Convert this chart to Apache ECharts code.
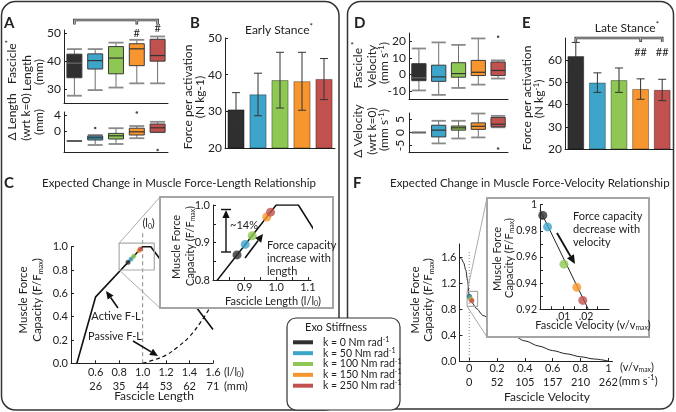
<!DOCTYPE html>
<html><head><meta charset="utf-8">
<script src="https://cdn.jsdelivr.net/npm/echarts@6/dist/echarts.min.js"></script>
<style>html,body{margin:0;padding:0;background:#fff;}#chart{width:676px;height:412px;}</style>
</head><body><div id="chart"></div>
<script>
// ---------------- data ----------------
const stiffness = ['0', '50', '100', '150', '250'];
const colors = ['#2f2f2f', '#3ea5ca', '#8ec753', '#f7962e', '#c1514e'];

// Panel A: fascicle length [min, q1, median, q3, max] (mm)
const fascicleLength = [
  [27.6, 34.0, 39.2, 42.4, 44.2],
  [29.6, 37.1, 40.1, 42.5, 44.2],
  [30.5, 35.4, 41.0, 45.1, 46.5],
  [32.0, 38.3, 44.3, 46.1, 47.5],
  [32.0, 39.9, 41.9, 47.7, 48.7]
];
const deltaLength = [
  [-2.5, -2.5, -2.5, -2.5, -2.5],
  [-3.5, -2.25, -1.7, -1.25, -1.0],
  [-3.25, -2.0, -1.2, -0.6, 0.7],
  [-1.8, -1.0, -0.2, 0.7, 1.25],
  [-0.3, -0.3, 0.8, 1.75, 2.3]
];
const deltaLengthOutliers = [[1, 0.75], [3, 4.6], [4, -4.75]];
// Panel B
const earlyForce = [30.5, 34.6, 38.5, 38.2, 38.8];
const earlySD = [4.6, 5.8, 7.6, 7.9, 5.6];
// Panel D
const fascicleVelocity = [
  [-9.8, -3.9, -2.2, 6.4, 15.6],
  [-12.5, -4.3, -1.6, 5.5, 19.3],
  [-8.3, -1.8, 0.4, 7.0, 17.8],
  [-6.3, -0.8, 1.2, 8.4, 21.7],
  [-2.6, -0.8, 2.3, 7.4, 8.4]
];
const fascicleVelocityOutliers = [[4, 22.7]];
const deltaVelocity = [
  [0, 0, 0, 0, 0],
  [-4.2, -1.7, 0.9, 2.8, 4.5],
  [-2.3, 0.9, 1.8, 2.5, 4.5],
  [-1.9, 1.2, 2.4, 3.7, 7.3],
  [2.0, 2.2, 3.2, 5.8, 6.4]
];
const deltaVelocityOutliers = [[4, -6.2]];
// Panel E
const lateForce = [61.8, 49.9, 51.0, 47.0, 46.6];
const lateSD = [6.2, 4.4, 5.5, 4.6, 4.8];
// Panel C
const activeFL = [[0.44, 0], [0.6, 0.57], [1.0, 1.0], [1.07, 1.0], [1.6, 0.29]];
const passiveFL = [[1.0, 0], [1.1, 0.03], [1.2, 0.07], [1.3, 0.14], [1.4, 0.23], [1.5, 0.36], [1.6, 0.52]];
const flPoints = [[0.876, 0.867], [0.902, 0.895], [0.924, 0.918], [0.970, 0.968], [0.982, 0.981]];
const l0Line = [[1.0, 0], [1.0, 1.14]];
const flZoomBox = [[0.8, 0.8], [1.1, 1.03]];
const flTicks = [0.6, 0.8, 1.0, 1.2, 1.4, 1.6];
const flTicksMM = [26, 35, 44, 53, 62, 71];
// Panel F
const fvCurve = [[-0.07, 1.6], [-0.055, 1.57], [-0.04, 1.51], [-0.025, 1.4], [-0.012, 1.24], [0, 1.0],
  [0.02, 0.9], [0.05, 0.81], [0.1, 0.7], [0.2, 0.53], [0.3, 0.41], [0.4, 0.31], [0.5, 0.23],
  [0.6, 0.16], [0.7, 0.11], [0.8, 0.065], [0.9, 0.03], [1.0, 0]];
const fvPoints = [[0.0012, 0.9918], [0.0033, 0.983], [0.0104, 0.9545], [0.016, 0.9368], [0.0186, 0.9268]];
const fvInsetLine = [[0, 0.996], [0.021, 0.92]];
const fvZoomBox = [[-0.015, 0.84], [0.06, 1.07]];
const fvTicks = [0, 0.2, 0.4, 0.6, 0.8, 1];
const fvTicksMMs = [0, 52, 105, 157, 210, 262];

// ---------------- helpers ----------------
const FONT = 'Lato';
const TXT = '#222';
const chart = echarts.init(document.getElementById('chart'), null, {renderer: 'canvas'});

function boxRender(params, api) {
  const i = api.value(0);
  const v = [1, 2, 3, 4, 5].map(k => api.coord([i, api.value(k)]));
  const w = api.size([1, 0])[0] * 0.72;
  const x = v[0][0];
  const gray = '#8a8a8a';
  return {type: 'group', children: [
    {type: 'line', shape: {x1: x, y1: v[0][1], x2: x, y2: v[1][1]}, style: {stroke: '#6f6f6f', lineWidth: 1}},
    {type: 'line', shape: {x1: x, y1: v[3][1], x2: x, y2: v[4][1]}, style: {stroke: '#6f6f6f', lineWidth: 1}},
    {type: 'line', shape: {x1: x - w / 2, y1: v[0][1], x2: x + w / 2, y2: v[0][1]}, style: {stroke: gray, lineWidth: 1.8}},
    {type: 'line', shape: {x1: x - w / 2, y1: v[4][1], x2: x + w / 2, y2: v[4][1]}, style: {stroke: gray, lineWidth: 1.8}},
    {type: 'rect', shape: {x: x - w / 2, y: v[3][1], width: w, height: v[1][1] - v[3][1]},
      style: {fill: colors[i], stroke: '#3a3a3a', lineWidth: 1}},
    {type: 'line', shape: {x1: x - w / 2, y1: v[2][1], x2: x + w / 2, y2: v[2][1]},
      style: {stroke: i === 0 ? '#6a6a6a' : '#333', lineWidth: 1.2}}
  ]};
}
function errRender(params, api) {
  const i = api.value(0), m = api.value(1), s = api.value(2);
  const lo = api.coord([i, m - s]), hi = api.coord([i, m + s]);
  const x = lo[0], c = 4;
  const st = {stroke: '#333', lineWidth: 1};
  return {type: 'group', children: [
    {type: 'line', shape: {x1: x, y1: lo[1], x2: x, y2: hi[1]}, style: st},
    {type: 'line', shape: {x1: x - c, y1: lo[1], x2: x + c, y2: lo[1]}, style: st},
    {type: 'line', shape: {x1: x - c, y1: hi[1], x2: x + c, y2: hi[1]}, style: st}
  ]};
}
const boxSeries = (gi, data) => ({type: 'custom', xAxisIndex: gi, yAxisIndex: gi, renderItem: boxRender,
  data: data.map((d, i) => [i].concat(d)), encode: {x: 0, y: [1, 2, 3, 4, 5]}, z: 3});
const outlierSeries = (gi, data) => ({type: 'scatter', xAxisIndex: gi, yAxisIndex: gi, data,
  symbolSize: 2.5, itemStyle: {color: '#222'}, z: 4});
const barSeries = (gi, vals) => ({type: 'bar', xAxisIndex: gi, yAxisIndex: gi, barWidth: '77%',
  data: vals.map((v, i) => ({value: v, itemStyle: {color: colors[i], borderColor: 'rgba(0,0,0,0.45)', borderWidth: 0.8}})), z: 2});
const errSeries = (gi, vals, sd) => ({type: 'custom', xAxisIndex: gi, yAxisIndex: gi, renderItem: errRender,
  data: vals.map((v, i) => [i, v, sd[i]]), encode: {x: 0, y: 1}, z: 4});
const boxPath = b => [[b[0][0], b[0][1]], [b[1][0], b[0][1]], [b[1][0], b[1][1]], [b[0][0], b[1][1]], [b[0][0], b[0][1]]];

const lineStyleAxis = {show: true, onZero: false, lineStyle: {color: '#222', width: 1}};
function catAxis(gi) {
  return {type: 'category', gridIndex: gi, data: stiffness, axisLine: lineStyleAxis,
    axisTick: {show: false}, axisLabel: {show: false}, splitLine: {show: false}};
}
function valAxis(gi, o) {
  const a = {type: 'value', gridIndex: gi, min: o.min, max: o.max, splitLine: {show: false},
    axisLine: lineStyleAxis,
    axisTick: {show: true, inside: true, length: 3, lineStyle: {color: '#222'}},
    axisLabel: {color: TXT, fontFamily: FONT, fontSize: o.fs || 12, margin: o.margin == null ? 3 : o.margin,
      hideOverlap: false, showMinLabel: true, showMaxLabel: true}};
  if (o.interval != null) a.interval = o.interval;
  if (o.labels) a.axisLabel.customValues = o.labels;
  if (o.ticks) a.axisTick.customValues = o.ticks;
  else if (o.labels) a.axisTick.customValues = o.labels;
  if (o.fmt) a.axisLabel.formatter = o.fmt;
  if (o.lineHeight) a.axisLabel.lineHeight = o.lineHeight;
  if (o.rotate) a.axisLabel.rotate = o.rotate;
  if (o.z != null) a.z = o.z;
  return a;
}
const idxOf = (arr, v) => arr.findIndex(t => Math.abs(t - v) < 1e-9);

const grids = [
  {left: 64, top: 30, width: 104, height: 73},
  {left: 64, top: 112, width: 104, height: 40},
  {left: 225, top: 38, width: 110, height: 110},
  {left: 409, top: 33, width: 99, height: 66},
  {left: 409, top: 113, width: 99, height: 39},
  {left: 565, top: 38, width: 108, height: 111},
  {left: 71, top: 246.7, width: 142, height: 116.6},
  {left: 213, top: 205, width: 98, height: 75},
  {left: 459.5, top: 244, width: 153, height: 117},
  {left: 540, top: 204.7, width: 69, height: 104.6}
];

const xAxes = [catAxis(0), catAxis(1), catAxis(2), catAxis(3), catAxis(4), catAxis(5),
  valAxis(6, {min: 0.39, max: 1.6, labels: flTicks, fs: 11, margin: 2, lineHeight: 14,
    fmt: v => v.toFixed(1) + '\n' + flTicksMM[idxOf(flTicks, v)]}),
  valAxis(7, {min: 0.8, max: 1.11, labels: [0.9, 1.0, 1.1], ticks: [0.85, 0.9, 0.95, 1.0, 1.05, 1.1], fs: 11, margin: 2,
    fmt: v => v.toFixed(1), z: 11}),
  valAxis(8, {min: -0.07, max: 1.03, labels: fvTicks, fs: 11, margin: 0, lineHeight: 14,
    fmt: v => (v === 0 || v === 1 ? String(v) : v.toFixed(1)) + '\n' + fvTicksMMs[idxOf(fvTicks, v)]}),
  valAxis(9, {min: 0, max: 0.03, labels: [0.01, 0.02], ticks: [0.005, 0.01, 0.015, 0.02, 0.025], fs: 10.5, margin: 2,
    fmt: v => '.' + String(Math.round(v * 100)).padStart(2, '0'), z: 11})
];
const yAxes = [
  valAxis(0, {min: 25, max: 51, labels: [30, 40, 50]}),
  valAxis(1, {min: -5.25, max: 4.75, labels: [0, 4]}),
  valAxis(2, {min: 20, max: 50, interval: 10}),
  valAxis(3, {min: -15, max: 25, labels: [-10, 0, 10, 20]}),
  valAxis(4, {min: -7.5, max: 7.5, labels: [-5, 0, 5], rotate: 90}),
  valAxis(5, {min: 20, max: 70, labels: [20, 30, 40, 50, 60]}),
  valAxis(6, {min: 0, max: 1, interval: 0.2, fs: 11, fmt: v => v.toFixed(1)}),
  valAxis(7, {min: 0.8, max: 1.0, labels: [0.8, 0.9, 1.0], ticks: [0.8, 0.85, 0.9, 0.95, 1.0], fs: 11, fmt: v => v.toFixed(1), z: 11}),
  valAxis(8, {min: 0, max: 1.8, labels: [0, 0.4, 0.8, 1.2, 1.6], fs: 11, fmt: v => v.toFixed(1)}),
  valAxis(9, {min: 0.92, max: 1.0, labels: [0.92, 0.94, 0.96, 0.98, 1.0], ticks: [0.92, 0.93, 0.94, 0.95, 0.96, 0.97, 0.98, 0.99, 1.0],
    fs: 10.5, fmt: v => (v === 1 ? '1' : v.toFixed(2)), z: 11})
];

const ptColors = pts => pts.map((p, i) => ({value: p, itemStyle: {color: colors[i]}}));

const series = [
  boxSeries(0, fascicleLength),
  boxSeries(1, deltaLength),
  outlierSeries(1, deltaLengthOutliers),
  barSeries(2, earlyForce),
  errSeries(2, earlyForce, earlySD),
  boxSeries(3, fascicleVelocity),
  outlierSeries(3, fascicleVelocityOutliers),
  boxSeries(4, deltaVelocity),
  outlierSeries(4, deltaVelocityOutliers),
  barSeries(5, lateForce),
  errSeries(5, lateForce, lateSD),
  // C main
  {type: 'line', xAxisIndex: 6, yAxisIndex: 6, data: activeFL, showSymbol: false, lineStyle: {color: '#111', width: 1.6}, z: 2, clip: true},
  {type: 'line', xAxisIndex: 6, yAxisIndex: 6, data: passiveFL, showSymbol: false, smooth: 0.4,
    lineStyle: {color: '#111', width: 1.2, type: [4, 3]}, z: 2},
  {type: 'line', xAxisIndex: 6, yAxisIndex: 6, data: l0Line, showSymbol: false, clip: false,
    lineStyle: {color: '#999', width: 1.2, type: [4, 3]}, z: 1},
  {type: 'line', xAxisIndex: 6, yAxisIndex: 6, data: boxPath(flZoomBox), showSymbol: false, clip: false,
    lineStyle: {color: '#aaa', width: 1.2}, z: 2},
  {type: 'scatter', xAxisIndex: 6, yAxisIndex: 6, data: ptColors(flPoints), symbolSize: 5, z: 3},
  // C inset
  {type: 'line', xAxisIndex: 7, yAxisIndex: 7, data: activeFL, showSymbol: false, lineStyle: {color: '#111', width: 1.5}, z: 12},
  {type: 'scatter', xAxisIndex: 7, yAxisIndex: 7, data: ptColors(flPoints), symbolSize: 9, z: 13},
  // F main
  {type: 'line', xAxisIndex: 8, yAxisIndex: 8, data: fvCurve, showSymbol: false, smooth: 0.3, smoothMonotone: 'x',
    lineStyle: {color: '#222', width: 1}, z: 2},
  {type: 'line', xAxisIndex: 8, yAxisIndex: 8, data: [[0, 0], [0, 1.7]], showSymbol: false,
    lineStyle: {color: '#888', width: 1, type: [1, 2]}, z: 1},
  {type: 'line', xAxisIndex: 8, yAxisIndex: 8, data: boxPath(fvZoomBox), showSymbol: false, clip: false,
    lineStyle: {color: '#aaa', width: 1.2}, z: 2},
  {type: 'scatter', xAxisIndex: 8, yAxisIndex: 8, data: ptColors(fvPoints), symbolSize: 5, z: 3},
  // F inset
  {type: 'line', xAxisIndex: 9, yAxisIndex: 9, data: fvInsetLine, showSymbol: false, lineStyle: {color: '#222', width: 1}, z: 12},
  {type: 'scatter', xAxisIndex: 9, yAxisIndex: 9, data: ptColors(fvPoints), symbolSize: 9, z: 13}
];

chart.setOption({animation: false, grid: grids, xAxis: xAxes, yAxis: yAxes, series});

// ---------------- annotations ----------------
const RICH = s => ({
  sup: {fontSize: s * 0.68, fontFamily: FONT, fill: TXT, verticalAlign: 'top', lineHeight: s * 1.2},
  sub: {fontSize: s * 0.62, fontFamily: FONT, fill: TXT, verticalAlign: 'bottom', lineHeight: s * 1.2}
});
function T(x, y, text, size, o = {}) {
  return {type: 'text', x, y, z: 30, rotation: o.rot || 0,
    style: {text, fill: TXT, fontSize: size, fontFamily: FONT, fontWeight: o.bold ? 'bold' : 'normal',
      align: o.align || 'center', verticalAlign: 'middle', lineHeight: o.lh || size * 1.2, rich: RICH(size)}};
}
const VT = (x, y, text, size) => T(x, y, text, size, {rot: Math.PI / 2});
function L(x1, y1, x2, y2, stroke, lw, z) {
  return {type: 'line', z: z || 30, shape: {x1, y1, x2, y2}, style: {stroke, lineWidth: lw}};
}
function arrow(x1, y1, x2, y2, hl = 8, hw = 3.6, lw = 1.6) {
  const a = Math.atan2(y2 - y1, x2 - x1);
  const bx = x2 - hl * Math.cos(a), by = y2 - hl * Math.sin(a);
  const nx = -Math.sin(a), ny = Math.cos(a);
  return [L(x1, y1, bx, by, '#111', lw),
    {type: 'polygon', z: 30, shape: {points: [[x2, y2], [bx + nx * hw, by + ny * hw], [bx - nx * hw, by - ny * hw]]}, style: {fill: '#111'}}];
}
function bracket(gi, y, drop) {
  const xs = [0, 3, 4].map(i => chart.convertToPixel({gridIndex: gi}, [i, 0])[0]);
  const pts = [[xs[0], y + drop], [xs[0], y], [xs[2], y], [xs[2], y + drop]];
  return [
    {type: 'polyline', z: 30, shape: {points: pts}, style: {stroke: '#3a3a3a', lineWidth: 2.6, fill: null}},
    {type: 'polyline', z: 31, shape: {points: pts}, style: {stroke: '#c8c8c8', lineWidth: 0.9, fill: null}},
    L(xs[1], y, xs[1], y + drop, '#3a3a3a', 2.6), L(xs[1], y, xs[1], y + drop - 0.8, '#c8c8c8', 0.9, 31)
  ];
}

function buildGraphics() {
  const px = (gi, p) => chart.convertToPixel({gridIndex: gi}, p);
  const g = [];
  // panel frames
  g.push({type: 'rect', z: 1, shape: {x: 1.5, y: 1.5, width: 337.5, height: 408.5, r: 14}, style: {fill: null, stroke: '#333', lineWidth: 1.5}});
  g.push({type: 'rect', z: 1, shape: {x: 347.5, y: 1.5, width: 326, height: 407.5, r: 13}, style: {fill: null, stroke: '#333', lineWidth: 1.5}});
  // panel letters
  [['A', 4, 23], ['B', 190, 23], ['D', 354, 23], ['E', 522, 23], ['C', 4, 183], ['F', 353, 183]]
    .forEach(([t, x, y]) => g.push(T(x, y, t, 15, {bold: true, align: 'left'})));
  // titles
  g.push(T(42, 183, 'Expected Change in Muscle Force-Length Relationship', 11.5, {align: 'left'}));
  g.push(T(390, 183, 'Expected Change in Muscle Force-Velocity Relationship', 11.5, {align: 'left'}));
  g.push(T(279, 30, 'Early Stance{sup|*}', 12));
  g.push(T(627, 28, 'Late Stance{sup|*}', 12));
  // y names
  g.push(VT(12, 62, 'Fascicle{sup|*}', 12), VT(27.5, 73, 'Length', 12), VT(39.5, 72, '(mm)', 12));
  g.push(VT(12, 117, 'Δ Length', 12), VT(26, 117, '(wrt k=0)', 12), VT(39.5, 122, '(mm)', 12));
  g.push(VT(188, 97, 'Force per activation', 12), VT(200.5, 97, '(N kg-1)', 12));
  g.push(VT(358, 65, 'Fascicle {sup|*}', 12), VT(372, 66, 'Velocity', 12), VT(384.5, 63, '(mm s{sup|-1})', 12));
  g.push(VT(358, 131, 'Δ Velocity', 12), VT(372, 131, '(wrt k=0)', 12), VT(384.5, 130, '(mm s{sup|-1})', 12));
  g.push(VT(527, 98, 'Force per activation', 12), VT(539.5, 99, '(N kg{sup|-1})', 12));
  g.push(VT(23, 300, 'Muscle Force', 11.5), VT(37, 300, 'Capacity (F/F{sub|max})', 11.5));
  g.push(VT(415, 300, 'Muscle Force', 11.5), VT(428.5, 300, 'Capacity (F/F{sub|max})', 11.5));
  // x names
  g.push(T(154, 396, 'Fascicle Length', 12), T(547, 397, 'Fascicle Velocity', 12));
  g.push(T(224, 372, '(l/l{sub|0})', 11, {align: 'left'}), T(224, 386, '(mm)', 11, {align: 'left'}));
  g.push(T(620, 367, '(v/v{sub|max})', 11, {align: 'left'}), T(619, 381, '(mm s{sup|-1})', 11, {align: 'left'}));
  // significance marks
  const a4 = px(0, [3, 0])[0], a5 = px(0, [4, 0])[0];
  g.push(T(a4, 33, '#', 11), T(a5, 28, '#', 11));
  const e4 = px(5, [3, 0])[0], e5 = px(5, [4, 0])[0];
  g.push(T(e4, 52, '##', 11), T(e5, 52, '##', 11));
  g.push(...bracket(0, 20, 4.5), ...bracket(5, 38, 4));
  // C main annotations
  const l0Top = px(6, l0Line[1]);
  g.push(T(l0Top[0] + 6, l0Top[1] - 7, '(l{sub|0})', 11));
  g.push(T(116, 316, 'Active F-L', 11), T(115, 336, 'Passive F-L', 11));
  g.push(...arrow(118, 308, 106, 291), ...arrow(133, 341, 158, 356));
  // C inset box + connectors
  const cTL = px(6, [flZoomBox[0][0], flZoomBox[1][1]]), cBL = px(6, flZoomBox[0]);
  g.push(L(cTL[0], cTL[1], 160, 197, '#aaa', 1, 9), L(cBL[0], cBL[1], 160, 308, '#aaa', 1, 9));
  g.push({type: 'rect', z: 10, shape: {x: 160, y: 197, width: 173, height: 111}, style: {fill: '#fff', stroke: '#a5a5a5', lineWidth: 2}});
  g.push(VT(176.5, 247, 'Muscle Force', 11), VT(190, 246, 'Capacity (F/F{sub|max})', 11));
  g.push(T(273, 301, 'Fascicle Length (l/l{sub|0})', 11));
  g.push(L(221, 252, 231, 252, '#111', 1.4), L(221, 209.5, 231, 209.5, '#111', 1.4));
  g.push(...arrow(226, 252, 226, 210, 8, 3.6, 1.4));
  g.push(T(244, 225, '~14%', 11));
  g.push(...arrow(245, 258, 263, 234, 8, 3.8, 1.6));
  g.push(T(267, 258, 'Force capacity\nincrease with\nlength', 11, {align: 'left', lh: 13}));
  // F inset box + connectors
  const fTL = px(8, [fvZoomBox[0][0], fvZoomBox[1][1]]), fBL = px(8, fvZoomBox[0]);
  g.push(L(fTL[0], fTL[1], 487, 198, '#aaa', 1, 9), L(fBL[0], fBL[1], 487, 337, '#aaa', 1, 9));
  g.push({type: 'rect', z: 10, shape: {x: 487, y: 198, width: 162, height: 139}, style: {fill: '#fff', stroke: '#a5a5a5', lineWidth: 2}});
  g.push(VT(497, 259, 'Muscle Force', 11), VT(509, 258, 'Capacity (F/F{sub|max})', 11));
  g.push(T(593, 325, 'Fascicle Velocity (v/v{sub|max})', 11));
  g.push(...arrow(557, 233, 575, 264, 9, 4, 1.8));
  g.push(T(573, 229.5, 'Force capacity\ndecrease with\nvelocity', 11, {align: 'left', lh: 12.8}));
  // legend
  g.push({type: 'rect', z: 25, shape: {x: 287, y: 318, width: 113, height: 92, r: 9}, style: {fill: '#fff', stroke: '#333', lineWidth: 1.2}});
  g.push(T(336, 327, 'Exo Stiffness', 11));
  stiffness.forEach((s, i) => {
    const y = 342.3 + i * 10.85;
    g.push(L(293, y, 313, y, colors[i], 4));
    g.push(T(323, y, 'k = ' + s + ' Nm rad{sup|-1}', 10.5, {align: 'left'}));
  });
  return g;
}
chart.setOption({graphic: buildGraphics()});
</script>
</body></html>
